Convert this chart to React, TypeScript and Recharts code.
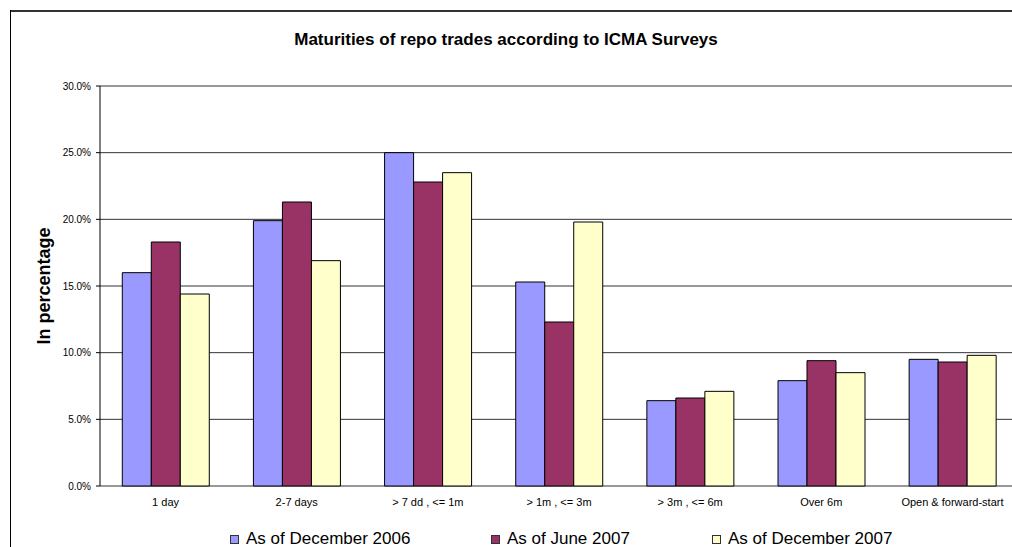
import { BarChart, Bar, XAxis, YAxis, CartesianGrid } from 'recharts';

const categories = ['1 day', '2-7 days', '> 7 dd , <= 1m', '> 1m , <= 3m', '> 3m , <= 6m', 'Over 6m', 'Open & forward-start'];
const dec2006 = [16.0, 19.9, 25.0, 15.3, 6.4, 7.9, 9.5];
const jun2007 = [18.3, 21.3, 22.8, 12.3, 6.6, 9.4, 9.3];
const dec2007 = [14.4, 16.9, 23.5, 19.8, 7.1, 8.5, 9.8];
const yTicks = [0, 5, 10, 15, 20, 25, 30];
const edgeTicks = [0, 1, 2, 3, 4, 5, 6];

const seriesInfo = [
  { key: 'dec2006', name: 'As of December 2006', color: '#9999FF', left: 230 },
  { key: 'jun2007', name: 'As of June 2007', color: '#993366', left: 491 },
  { key: 'dec2007', name: 'As of December 2007', color: '#FFFFCC', left: 712 },
];

const data = categories.map((name, i) => ({
  name,
  dec2006: dec2006[i],
  jun2007: jun2007[i],
  dec2007: dec2007[i],
}));

const font = 'Arial, "Liberation Sans", sans-serif';

const App = () => {
  return (
    <div style={{ position: 'fixed', left: 0, top: 0, width: 1012, height: 547, overflow: 'hidden', background: '#fff', fontFamily: font }}>
      {/* chart frame: only top and left edges are visible in the window */}
      <div style={{ position: 'absolute', left: 10, top: 10, width: 1002, height: 2, background: '#333' }} />
      <div style={{ position: 'absolute', left: 10, top: 10, width: 1, height: 537, background: '#000' }} />
      <div style={{ position: 'absolute', left: 10, top: 30, width: 992, textAlign: 'center', fontSize: 17, fontWeight: 'bold', color: '#000' }}>
        Maturities of repo trades according to ICMA Surveys
      </div>
      <div style={{ position: 'absolute', left: 0, top: 0, width: 1012, height: 547, overflow: 'hidden' }}>
        <BarChart
          width={1030}
          height={547}
          data={data}
          margin={{ top: 86, right: 12, bottom: 31, left: 40 }}
          barCategoryGap="17%"
          barGap={0}
        >
          <CartesianGrid vertical={false} stroke="#333" />
          <XAxis
            xAxisId="edge"
            type="number"
            domain={[0, 7]}
            allowDataOverflow
            ticks={edgeTicks}
            tick={false}
            tickSize={5}
            height={0}
            stroke="#000"
          />
          <XAxis
            dataKey="name"
            interval={0}
            tickLine={false}
            axisLine={false}
            height={30}
            tickMargin={6}
            tick={{ fontSize: 11, fill: '#000', fontFamily: font }}
          />
          <YAxis
            domain={[0, 30]}
            ticks={yTicks}
            width={60}
            tickSize={4}
            tickMargin={5}
            stroke="#000"
            tickFormatter={(v: number) => v.toFixed(1) + '%'}
            tick={{ fontSize: 10, fill: '#000', fontFamily: font }}
            label={{
              value: 'In percentage',
              angle: -90,
              position: 'insideLeft',
              offset: 4,
              style: { textAnchor: 'middle', fontSize: 18, fontWeight: 'bold', fill: '#000', fontFamily: font },
            }}
          />
          {seriesInfo.map((s) => (
            <Bar key={s.key} dataKey={s.key} name={s.name} fill={s.color} stroke="#000" strokeWidth={1} isAnimationActive={false} />
          ))}
        </BarChart>
      </div>
      {seriesInfo.map((s) => (
        <div key={s.key} style={{ position: 'absolute', left: s.left, top: 529, display: 'flex', alignItems: 'center', fontSize: 17, color: '#000', whiteSpace: 'nowrap' }}>
          <span style={{ display: 'inline-block', width: 7, height: 7, background: s.color, border: '1px solid #333', marginRight: 7 }} />
          <span>{s.name}</span>
        </div>
      ))}
    </div>
  );
};

export default App;
